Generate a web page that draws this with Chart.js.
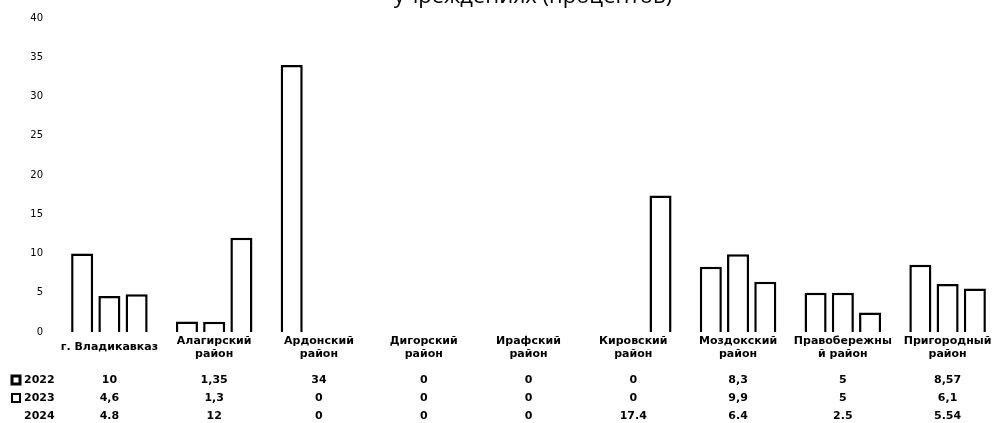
<!DOCTYPE html>
<html>
<head>
<meta charset="utf-8">
<script src="https://cdn.jsdelivr.net/npm/chart.js@4.4.1/dist/chart.umd.min.js"></script>
<style>
  html, body { margin: 0; padding: 0; background: #fff; overflow: hidden; }
  #wrap { position: relative; width: 1000px; height: 423px; }
</style>
</head>
<body>
<div id="wrap"><canvas id="chart"></canvas></div>
<script>
// ── DATA ─────────────────────────────────────────────
const categories = [
  ['г. Владикавказ'],
  ['Алагирский', 'район'],
  ['Ардонский', 'район'],
  ['Дигорский', 'район'],
  ['Ирафский', 'район'],
  ['Кировский', 'район'],
  ['Моздокский', 'район'],
  ['Правобережны', 'й район'],
  ['Пригородный', 'район'],
];
const years = ['2022', '2023', '2024'];
const values2022 = [10, 1.35, 34, 0, 0, 0, 8.3, 5, 8.57];
const values2023 = [4.6, 1.3, 0, 0, 0, 0, 9.9, 5, 6.1];
const values2024 = [4.8, 12, 0, 0, 0, 17.4, 6.4, 2.5, 5.54];
const decimalSep = [',', ',', '.'];
const yTicks = [0, 5, 10, 15, 20, 25, 30, 35, 40];
const titleText = 'учреждениях (процентов)';

const series = [values2022, values2023, values2024];
const labelFont = 'bold 11px "DejaVu Sans"';

// ── TABLE + TITLE PLUGIN ─────────────────────────────
const tablePlugin = {
  id: 'table',
  afterDraw(chart) {
    const ctx = chart.ctx;
    const x = chart.scales.x;
    ctx.save();
    ctx.fillStyle = '#000';

    // title, cut off at the top like the source
    ctx.font = '22px "Open Sans"';
    ctx.textAlign = 'center';
    ctx.textBaseline = 'alphabetic';
    ctx.fillText(titleText, 533, 3);

    ctx.font = labelFont;
    ctx.textBaseline = 'middle';
    // category labels
    categories.forEach((lines, i) => {
      const cx = x.getPixelForValue(i);
      if (lines.length === 1) {
        ctx.fillText(lines[0], cx, 347);
      } else {
        lines.forEach((t, k) => ctx.fillText(t, cx, 341 + k * 13));
      }
    });
    // rows
    series.forEach((vals, r) => {
      const y = 380 + r * 18;
      ctx.textAlign = 'left';
      ctx.fillText(years[r], 24, y);
      if (r < 2) {
        ctx.lineWidth = r === 0 ? 3 : 2;
        ctx.strokeStyle = '#000';
        ctx.strokeRect(12, y - 4, 8, 8);
      }
      ctx.textAlign = 'center';
      vals.forEach((v, i) => {
        ctx.fillText(String(v).replace('.', decimalSep[r]), x.getPixelForValue(i), y);
      });
    });
    ctx.restore();
  }
};

// ── CHART ────────────────────────────────────────────
new Chart(document.getElementById('chart'), {
  type: 'bar',
  data: {
    labels: categories.map(c => c.join(' ')),
    datasets: series.map((vals, r) => ({
      label: years[r],
      data: vals,
      backgroundColor: '#fff',
      borderColor: '#000',
      borderWidth: 2.5,
      barPercentage: 0.81,
      categoryPercentage: 0.78,
    }))
  },
  options: {
    responsive: true,
    maintainAspectRatio: false,
    animation: false,
    layout: { padding: { top: 18, bottom: 83, right: 0, left: 0 } },
    plugins: { legend: { display: false }, tooltip: { enabled: false }, title: { display: false } },
    scales: {
      x: {
        grid: { display: false },
        border: { display: false },
        ticks: { display: false },
      },
      y: {
        min: 0, max: 40,
        afterBuildTicks: s => { s.ticks = yTicks.map(v => ({ value: v })); },
        afterFit: s => { s.width = 57; },
        grid: { display: false },
        border: { display: false },
        ticks: {
          color: '#000',
          padding: 6,
          font: { family: 'DejaVu Sans', size: 10 },
        },
      }
    }
  },
  plugins: [tablePlugin]
});
</script>
</body>
</html>
